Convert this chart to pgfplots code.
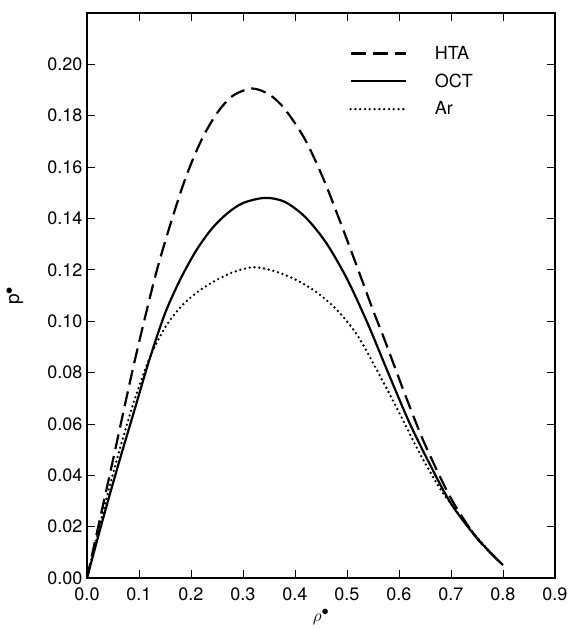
\documentclass[border=0pt]{standalone}
\usepackage{fontspec}
\setmainfont{TeX Gyre Heros}
\usepackage{pgfplots}
\pgfplotsset{compat=1.18}
\begin{document}
\begin{tikzpicture}
\useasboundingbox (-87pt,-52pt) rectangle (482pt,578pt);
\begin{axis}[
  at={(0pt,0pt)}, anchor=south west,
  scale only axis, width=468pt, height=565pt,
  xmin=0, xmax=0.9, ymin=0, ymax=0.22,
  xtick={0,0.1,0.2,0.3,0.4,0.5,0.6,0.7,0.8,0.9},
  ytick={0,0.02,0.04,0.06,0.08,0.10,0.12,0.14,0.16,0.18,0.20},
  scaled ticks=false,
  xticklabel style={yshift=-6pt,/pgf/number format/.cd,fixed,fixed zerofill,precision=1},
  yticklabel style={xshift=-1pt,/pgf/number format/.cd,fixed,fixed zerofill,precision=2},
  /pgf/number format/assume math mode=true,
  tick label style={font=\fontsize{18}{20}\selectfont},
  major tick length=8pt,
  tick style={line width=0.8pt, black},
  axis line style={line width=1.9pt},
  xlabel={$\rho^{\bullet}$}, ylabel={p$^{\bullet}$},
  every axis x label/.style={at={(axis description cs:0.5,-0.069)}, anchor=center, font=\fontsize{19}{21}\selectfont},
  every axis y label/.style={at={(axis description cs:-0.154,0.5)}, anchor=center, rotate=90, font=\fontsize{19}{21}\selectfont},
  legend image code/.code={\draw[#1] (0pt,0pt) -- (55pt,0pt);},
  legend cell align=left,
  legend style={at={(0.56,0.945)}, anchor=north west, draw=none, fill=none,
    font=\fontsize{18}{20}\selectfont, row sep=9pt, inner sep=0pt,
    /tikz/every odd column/.append style={column sep=26pt}},
]
\addplot[black, line width=2.2pt, dash pattern=on 15pt off 7pt, smooth] coordinates {
(0,0) (0.02,0.0185) (0.05,0.046) (0.09,0.083) (0.13,0.1165) (0.16,0.1375)
(0.19,0.156) (0.22,0.1705) (0.25,0.181) (0.28,0.1877) (0.317,0.1906)
(0.35,0.1883) (0.38,0.1827) (0.42,0.1705) (0.46,0.1528) (0.512,0.1252)
(0.55,0.1043) (0.569,0.0945) (0.60,0.0777) (0.617,0.0686) (0.65,0.052)
(0.70,0.031) (0.75,0.0155) (0.80,0.005)};
\addlegendentry{HTA}
\addplot[black, line width=2.2pt, smooth] coordinates {
(0,0) (0.03,0.0225) (0.06,0.044) (0.09,0.0645) (0.12,0.085) (0.15,0.103)
(0.18,0.1165) (0.21,0.1275) (0.24,0.136) (0.27,0.142) (0.30,0.146) (0.342,0.148)
(0.38,0.1465) (0.42,0.1405) (0.46,0.1305) (0.50,0.1165) (0.54,0.099)
(0.58,0.0795) (0.62,0.0605) (0.66,0.044) (0.70,0.029) (0.75,0.0155) (0.80,0.005)};
\addlegendentry{OCT}
\addplot[black, line width=2.6pt, line cap=round, dash pattern=on 0pt off 4.8pt, smooth] coordinates {
(0,0) (0.03,0.025) (0.06,0.048) (0.09,0.0685) (0.12,0.0855) (0.15,0.0975)
(0.18,0.1055) (0.21,0.111) (0.24,0.115) (0.28,0.119) (0.32,0.121)
(0.36,0.1195) (0.40,0.1163) (0.44,0.1115) (0.48,0.1045) (0.52,0.0945)
(0.56,0.080) (0.60,0.0645) (0.64,0.0485) (0.68,0.0345) (0.72,0.0235)
(0.76,0.0135) (0.80,0.005)};
\addlegendentry{Ar}
\end{axis}
\end{tikzpicture}
\end{document}
